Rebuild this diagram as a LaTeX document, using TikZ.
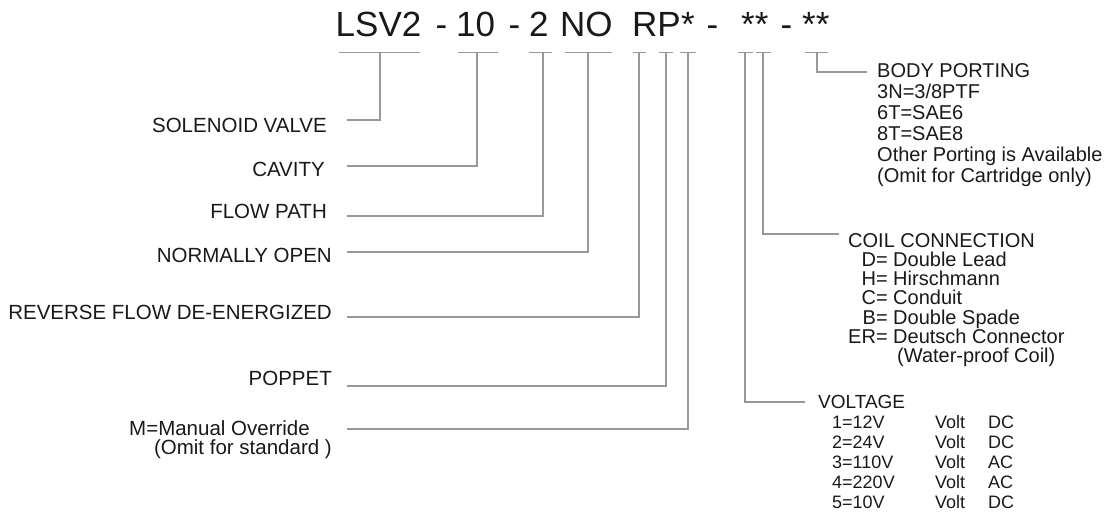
\documentclass[tikz,border=0pt]{standalone}
\usepackage{fontspec}
\setmainfont{Liberation Sans}
\begin{document}
\begin{tikzpicture}[x=1pt,y=-1pt,
  code/.style={inner sep=0pt,anchor=base west,text=black!90,font=\fontsize{35}{40}\selectfont},
  lbl/.style={inner sep=0pt,anchor=base east,text=black!90,font=\fontsize{20.5}{22}\selectfont},
  rtxt/.style={inner sep=0pt,anchor=base west,align=left,text=black!90,font=\fontsize{20}{21}\selectfont},
  ln/.style={draw=black!40,line width=1.4pt}]
\useasboundingbox (0,0) rectangle (1109,517);

% part number
\node[code] (lsv) at (335.5,36) {LSV2};
\node[code] (d1) at (435.5,36) {-};
\node[code] (cav) at (456,36) {10};
\node[code] (d2) at (508.5,36) {-};
\node[code] (fp) at (529,36) {2};
\node[code] (no) at (560,36) {NO};
\node[code] (rp) at (632,36) {RP};
\node[code] (opt) at (681,36) {*};
\node[code] (d3) at (706.5,36) {-};
\node[code] (vc) at (741,36) {**};
\node[code] (d4) at (780.5,36) {-};
\node[code] (port) at (802,36) {**};

% underlines
\foreach \a/\b in {339/420,458/498,529/552,565/612,633/646,659/673,680/696,738/753,756/771,805/828}
  \draw[ln] (\a,52.5) -- (\b,52.5);

% top ends of the leaders
\coordinate (t1) at (380,52.5);
\coordinate (t2) at (477,52.5);
\coordinate (t3) at (543,52.5);
\coordinate (t4) at (588,52.5);
\coordinate (t5) at (639,52.5);
\coordinate (t6) at (666,52.5);
\coordinate (t7) at (688,52.5);
\coordinate (t8) at (745,52.5);
\coordinate (t9) at (763,52.5);
\coordinate (t10) at (817,52.5);

% left labels
\node[lbl] (sol) at (327,132) {SOLENOID VALVE};
\node[lbl] (cavity) at (325,176) {CAVITY};
\node[lbl] (flow) at (327,218) {FLOW PATH};
\node[lbl] (nopen) at (332,262) {NORMALLY OPEN};
\node[lbl] (rev) at (332,319) {REVERSE FLOW DE-ENERGIZED};
\node[lbl] (pop) at (332,385) {POPPET};
\node[lbl] (man) at (310,435) {M=Manual Override};
\node[lbl] (std) at (332,454) {(Omit for standard )};

\coordinate (s1) at (347,120);
\coordinate (s2) at (347,166);
\coordinate (s3) at (347,216);
\coordinate (s4) at (347,252);
\coordinate (s5) at (347,317);
\coordinate (s6) at (347,386);
\coordinate (s7) at (347,429);
\draw[ln] (s1) -| (t1);
\draw[ln] (s2) -| (t2);
\draw[ln] (s3) -| (t3);
\draw[ln] (s4) -| (t4);
\draw[ln] (s5) -| (t5);
\draw[ln] (s6) -| (t6);
\draw[ln] (s7) -| (t7);

% right blocks (base = last line)
\node[rtxt] (body) at (877,182.5) {BODY PORTING\\3N=3/8PTF\\6T=SAE6\\8T=SAE8\\Other Porting is Available\\(Omit for Cartridge only)};
\node[rtxt,font=\fontsize{20}{19.3}\selectfont] (coil) at (848,362.8) {COIL CONNECTION\\
  \makebox[39.5pt][r]{D=} Double Lead\\
  \makebox[39.5pt][r]{H=} Hirschmann\\
  \makebox[39.5pt][r]{C=} Conduit\\
  \makebox[39.5pt][r]{B=} Double Spade\\
  \makebox[39.5pt][r]{ER=} Deutsch Connector\\
  \hspace*{49pt}(Water-proof Coil)};
\node[rtxt,font=\fontsize{19}{20}\selectfont] (volt) at (818,508) {VOLTAGE\\
  {\fontsize{18}{20}\selectfont\hspace*{14pt}\makebox[103pt][l]{1=12V}\makebox[53pt][l]{Volt}DC}\\
  {\fontsize{18}{20}\selectfont\hspace*{14pt}\makebox[103pt][l]{2=24V}\makebox[53pt][l]{Volt}DC}\\
  {\fontsize{18}{20}\selectfont\hspace*{14pt}\makebox[103pt][l]{3=110V}\makebox[53pt][l]{Volt}AC}\\
  {\fontsize{18}{20}\selectfont\hspace*{14pt}\makebox[103pt][l]{4=220V}\makebox[53pt][l]{Volt}AC}\\
  {\fontsize{18}{20}\selectfont\hspace*{14pt}\makebox[103pt][l]{5=10V}\makebox[53pt][l]{Volt}DC}};

\coordinate (e8) at (805,402);
\coordinate (e9) at (839,234);
\coordinate (e10) at (867,72);
\draw[ln] (t8) |- (e8);
\draw[ln] (t9) |- (e9);
\draw[ln] (t10) |- (e10);
\end{tikzpicture}
\end{document}
